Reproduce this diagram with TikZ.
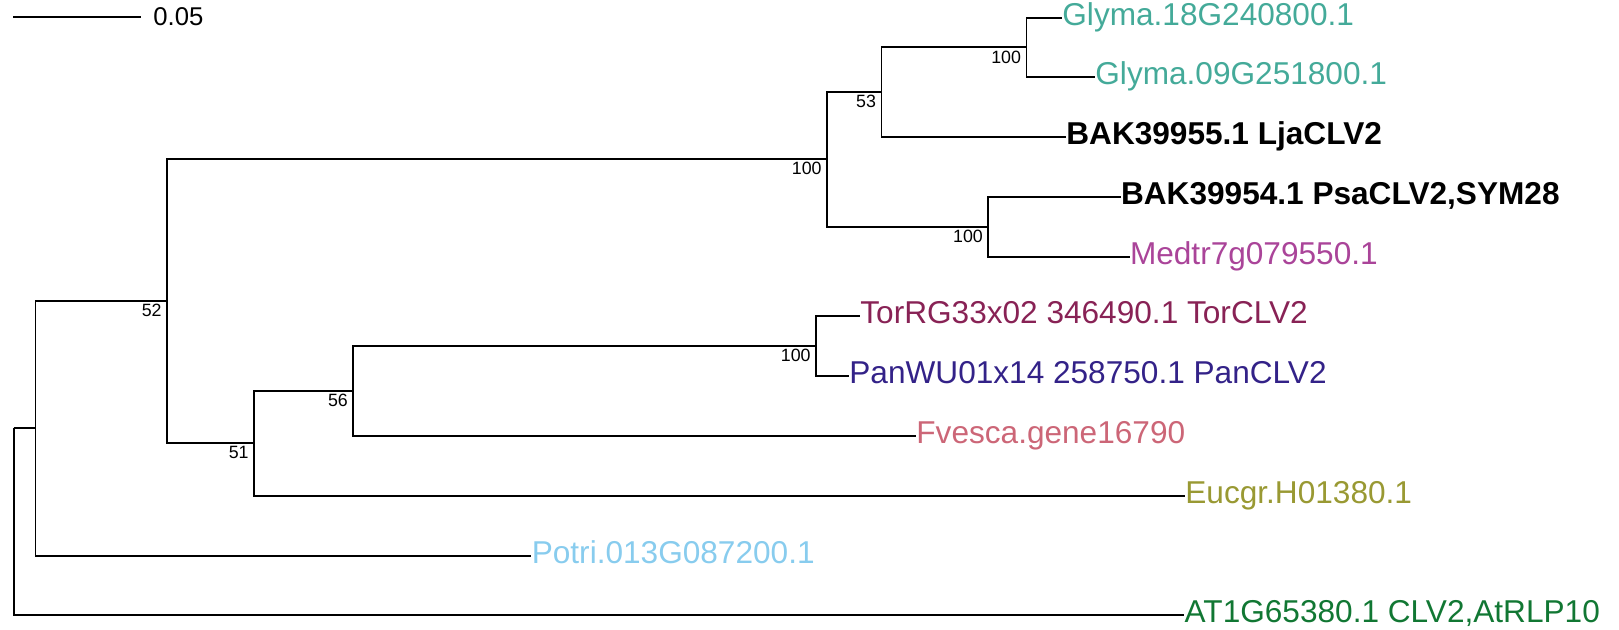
\documentclass[tikz,border=0pt]{standalone}
\usepackage{fontspec}
\setmainfont{Liberation Sans}
\usepackage{xcolor}
\usepackage{tikz}
\usetikzlibrary{positioning}
\definecolor{cGly}{HTML}{44AA99}
\definecolor{cMed}{HTML}{AA4499}
\definecolor{cTor}{HTML}{882255}
\definecolor{cPan}{HTML}{332288}
\definecolor{cFve}{HTML}{CC6677}
\definecolor{cEuc}{HTML}{999933}
\definecolor{cPot}{HTML}{88CCEE}
\definecolor{cAth}{HTML}{117733}
\tikzset{
  branch/.style={line width=0.9pt},
  leaf/.style={anchor=west, inner xsep=0pt, inner ysep=0pt, text height=11.3pt, text depth=3.3pt, font=\fontsize{15.8}{18}\selectfont},
  boldleaf/.style={leaf, font=\fontsize{15.8}{18}\selectfont\bfseries},
  boot/.style={anchor=north east, inner sep=0pt, font=\fontsize{8.9}{10}\selectfont},
  scalelab/.style={anchor=west, inner sep=0pt, font=\fontsize{12.85}{15}\selectfont}
}

\begin{document}
\begin{tikzpicture}[x=0.5pt, y=-0.5pt]
  \useasboundingbox (0,0) rectangle (1619,630);

  % scale bar
  \coordinate (sbL) at (13,17);
  \coordinate (sbR) at (141,17);
  \draw[branch] (sbL) -- (sbR);
  \node[scalelab, right=6pt of sbR] (sbtext) {0.05};

  % inner nodes
  \coordinate (n0) at (13.6,428);
  \coordinate (nA) at (35.4,428);
  \coordinate (nB) at (167,301);
  \coordinate (nC) at (827,159);
  \coordinate (nE) at (881.4,92);
  \coordinate (nG) at (1026.4,47.3);
  \coordinate (nF) at (988.2,227);
  \coordinate (nD) at (254,443.3);
  \coordinate (nH) at (353.2,391);
  \coordinate (nI) at (816,346);

  % tips
  \node[leaf, text=cGly] (glyA) at (1062,17.7) {Glyma.18G240800.1};
  \node[leaf, text=cGly] (glyB) at (1095,77) {Glyma.09G251800.1};
  \node[boldleaf] (lja) at (1066,136.7) {BAK39955.1 LjaCLV2};
  \node[boldleaf] (psa) at (1120.7,196.7) {BAK39954.1 PsaCLV2,SYM28};
  \node[leaf, text=cMed] (med) at (1129.6,256.7) {Medtr7g079550.1};
  \node[leaf, text=cTor] (tor) at (860,315.7) {TorRG33x02 346490.1 TorCLV2};
  \node[leaf, text=cPan] (pan) at (849,376) {PanWU01x14 258750.1 PanCLV2};
  \node[leaf, text=cFve] (fve) at (916,435.7) {Fvesca.gene16790};
  \node[leaf, text=cEuc] (euc) at (1185,495.7) {Eucgr.H01380.1};
  \node[leaf, text=cPot] (pot) at (531.4,555.7) {Potri.013G087200.1};
  \node[leaf, text=cAth] (ath) at (1184.3,615) {AT1G65380.1 CLV2,AtRLP10};

  % branches
  \draw[branch] (n0) |- (nA);
  \draw[branch] (n0) |- (ath.west);
  \draw[branch] (nA) |- (nB);
  \draw[branch] (nA) |- (pot.west);
  \draw[branch] (nB) |- (nC);
  \draw[branch] (nB) |- (nD);
  \draw[branch] (nC) |- (nE);
  \draw[branch] (nC) |- (nF);
  \draw[branch] (nE) |- (nG);
  \draw[branch] (nE) |- (lja.west);
  \draw[branch] (nG) |- (glyA.west);
  \draw[branch] (nG) |- (glyB.west);
  \draw[branch] (nF) |- (psa.west);
  \draw[branch] (nF) |- (med.west);
  \draw[branch] (nD) |- (nH);
  \draw[branch] (nD) |- (euc.west);
  \draw[branch] (nH) |- (nI);
  \draw[branch] (nH) |- (fve.west);
  \draw[branch] (nI) |- (tor.west);
  \draw[branch] (nI) |- (pan.west);

  % bootstrap values
  \node[boot] (bG) at ([shift={(-5,3)}]nG) {100};
  \node[boot] (bE) at ([shift={(-5,3)}]nE) {53};
  \node[boot] (bC) at ([shift={(-5,3)}]nC) {100};
  \node[boot] (bF) at ([shift={(-5,3)}]nF) {100};
  \node[boot] (bB) at ([shift={(-5,3)}]nB) {52};
  \node[boot] (bD) at ([shift={(-5,3)}]nD) {51};
  \node[boot] (bH) at ([shift={(-5,3)}]nH) {56};
  \node[boot] (bI) at ([shift={(-5,3)}]nI) {100};
\end{tikzpicture}
\end{document}
